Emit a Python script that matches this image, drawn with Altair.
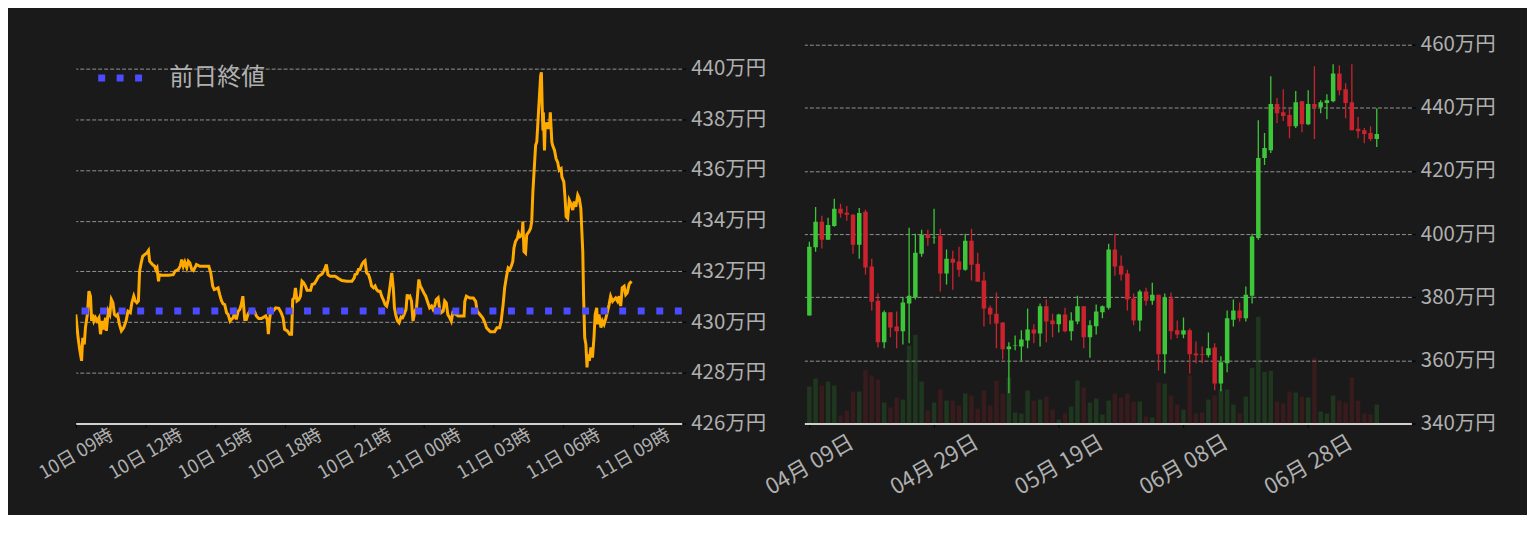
import altair as alt
import pandas as pd

FONT = "Noto Sans CJK JP"
BG = "#1a1a1a"
LABEL = "#b0b0b0"
ORANGE = "#ffaa00"
BLUE = "#4b4bff"
UP = "#3ec63a"
DOWN = "#c9232e"

# ---------------- intraday (minutes after 10日 09:00, price in 万円) ----------------
intraday_minutes = [
    0, 6, 10, 15, 18, 22, 25, 30, 34, 38, 41, 44, 47, 51, 55, 60, 64, 68, 72, 77,
    79, 84, 88, 92, 96, 100, 104, 108, 113, 118, 124, 130, 135, 141, 145, 150, 154, 158, 162, 165,
    169, 173, 178, 184, 188, 191, 195, 198, 204, 207, 210, 214, 216, 222, 240, 252, 257, 265, 270, 274,
    278, 282, 287, 291, 295, 300, 304, 308, 312, 321, 334, 344, 349, 354, 358, 364, 368, 372, 377, 381,
    385, 390, 394, 399, 402, 407, 411, 415, 420, 424, 428, 432, 437, 441, 445, 450, 456, 462, 467, 473,
    480, 491, 495, 498, 501, 505, 510, 517, 525, 531, 536, 540, 547, 553, 558, 561, 565, 568, 572, 577,
    581, 585, 589, 594, 598, 607, 611, 617, 622, 628, 637, 641, 645, 648, 652, 658, 671, 679, 688, 701,
    714, 720, 722, 727, 731, 735, 740, 744, 748, 752, 757, 761, 765, 770, 774, 778, 782, 787, 791, 795,
    800, 804, 808, 812, 817, 821, 824, 828, 832, 836, 841, 845, 849, 854, 857, 860, 864, 868, 872, 877,
    881, 887, 891, 896, 900, 905, 909, 915, 920, 924, 928, 932, 937, 941, 945, 950, 954, 958, 962, 967,
    971, 975, 983, 989, 998, 1004, 1006, 1010, 1019, 1028, 1034, 1038, 1045, 1052, 1058, 1062, 1066, 1072, 1083, 1089,
    1096, 1100, 1105, 1109, 1113, 1118, 1122, 1126, 1130, 1133, 1137, 1142, 1145, 1149, 1154, 1156, 1159, 1163, 1166, 1172,
    1176, 1179, 1182, 1186, 1189, 1192, 1196, 1199, 1202, 1204, 1206, 1208, 1209, 1212, 1214, 1218, 1221, 1225, 1227, 1231,
    1233, 1238, 1242, 1246, 1250, 1255, 1257, 1262, 1265, 1268, 1272, 1276, 1280, 1285, 1289, 1293, 1298, 1302, 1306, 1309,
    1311, 1313, 1316, 1319, 1322, 1324, 1328, 1332, 1336, 1340, 1343, 1347, 1349, 1353, 1358, 1362, 1366, 1371, 1375, 1379,
    1383, 1388, 1392, 1396, 1401, 1405, 1409, 1413, 1418, 1422, 1426, 1431, 1437,
]
intraday_price = [
    430.30, 429.38, 428.93, 428.47, 429.38, 429.12, 429.78, 430.30, 431.22, 431.02, 430.04, 430.30, 430.04, 430.17, 430.04, 430.17, 429.52, 430.04, 429.71, 430.17,
    429.65, 430.43, 430.30, 430.89, 430.76, 430.30, 430.24, 430.30, 429.91, 429.65, 429.78, 430.04, 430.43, 430.37, 430.76, 431.02, 430.83, 430.76, 430.83, 432.01,
    432.33, 432.59, 432.66, 432.73, 432.82, 432.40, 432.33, 432.27, 432.20, 432.07, 432.14, 431.61, 431.87, 431.85, 431.85, 431.87, 432.01, 432.07, 432.20, 432.46,
    432.20, 432.37, 432.14, 432.40, 432.33, 432.07, 432.03, 432.14, 432.27, 432.20, 432.20, 432.20, 431.94, 431.42, 431.28, 431.32, 431.35, 431.09, 430.83, 430.72,
    430.69, 430.37, 430.30, 430.04, 430.10, 430.17, 430.37, 430.10, 430.43, 430.50, 430.69, 431.02, 430.10, 430.10, 430.30, 430.43, 430.50, 430.43, 430.24, 430.14,
    430.14, 430.24, 430.10, 429.52, 430.10, 430.50, 430.43, 430.56, 430.54, 430.37, 430.17, 429.71, 429.65, 429.52, 429.52, 430.89, 430.96, 431.35, 430.83, 430.89,
    431.02, 431.61, 431.55, 431.42, 431.25, 431.25, 431.48, 431.51, 431.64, 431.81, 431.90, 432.01, 432.14, 432.27, 431.87, 431.81, 431.81, 431.72, 431.64, 431.61,
    431.61, 431.74, 431.87, 431.90, 432.07, 432.07, 432.27, 432.37, 432.42, 431.94, 431.87, 431.68, 431.42, 431.35, 431.42, 431.28, 431.22, 431.22, 431.02, 430.89,
    430.69, 430.63, 430.89, 431.35, 431.94, 431.35, 430.56, 430.24, 430.04, 429.97, 430.20, 430.17, 430.30, 430.50, 431.09, 430.96, 431.02, 430.83, 430.04, 430.43,
    430.56, 431.68, 431.42, 431.28, 431.15, 431.02, 430.83, 430.56, 430.63, 430.50, 430.63, 430.89, 430.96, 430.50, 430.37, 430.43, 430.83, 430.76, 430.30, 430.17,
    430.04, 430.37, 430.30, 430.24, 430.24, 430.24, 430.82, 431.02, 430.95, 430.95, 430.82, 430.43, 430.30, 430.17, 429.97, 429.78, 429.71, 429.62, 429.62, 429.78,
    429.78, 430.04, 430.69, 431.35, 431.74, 432.13, 432.07, 432.20, 432.39, 432.92, 433.18, 433.31, 433.50, 433.37, 433.44, 433.96, 432.78, 432.72, 433.44, 433.57,
    433.70, 433.96, 435.14, 436.18, 436.97, 437.10, 438.14, 438.93, 439.71, 439.85, 438.54, 437.56, 438.27, 436.77, 437.88, 437.62, 437.88, 437.62, 438.27, 437.10,
    436.97, 436.77, 436.44, 436.31, 435.99, 436.05, 435.73, 435.53, 434.94, 434.16, 434.09, 434.81, 434.68, 434.42, 434.75, 434.55, 435.01, 434.88, 434.48, 433.44,
    432.78, 431.08, 429.39, 429.12, 428.21, 428.73, 428.47, 429.00, 428.60, 429.39, 430.30, 430.56, 429.91, 430.30, 429.78, 430.04, 429.91, 430.17, 430.43, 430.69,
    431.02, 430.82, 430.89, 430.95, 430.82, 431.02, 430.63, 431.35, 431.41, 431.08, 431.15, 431.50, 431.61,
]
prev_close = 430.44
prev_close_label = "前日終値"

# ---------------- daily candles (万円) ----------------
day_open = [
    374.2, 395.8, 403.9, 398.2, 402.6, 408.0, 406.8, 406.1, 396.6, 407.1,
    389.7, 378.9, 365.7, 375.2, 370.7, 369.2, 378.0, 379.9, 393.8, 399.9,
    398.9, 399.5, 387.5, 392.2, 391.3, 388.7, 397.9, 390.6, 385.3, 376.7,
    374.8, 372.0, 363.5, 364.6, 364.4, 366.3, 369.8, 368.5, 377.1, 372.6,
    371.4, 374.5, 369.2, 372.3, 377.1, 367.3, 370.8, 375.2, 376.7, 395.1,
    390.0, 387.5, 379.6, 372.6, 381.8, 378.9, 380.8, 361.9, 379.6, 369.5,
    368.2, 369.5, 362.2, 361.9, 361.6, 364.1, 352.7, 359.1, 372.9, 375.8,
    373.3, 380.5, 398.8, 424.1, 426.6, 441.2, 438.6, 437.7, 434.2, 442.1,
    434.8, 441.2, 440.2, 441.5, 442.1, 450.9, 445.9, 441.8, 433.4, 432.9,
    432.0, 430.1,
]
day_close = [
    396.0, 403.9, 398.2, 402.9, 408.0, 406.5, 406.1, 396.6, 406.7, 389.4,
    378.6, 365.7, 375.2, 370.4, 369.2, 378.3, 380.5, 394.1, 399.8, 398.8,
    399.1, 387.5, 392.2, 390.9, 388.7, 397.9, 390.3, 384.9, 376.4, 374.5,
    371.7, 363.5, 364.4, 364.8, 366.6, 369.8, 368.5, 377.1, 372.3, 371.4,
    374.5, 369.2, 372.6, 377.1, 367.3, 371.1, 375.5, 377.1, 395.1, 389.7,
    387.2, 379.3, 372.6, 381.8, 378.9, 380.8, 361.9, 379.8, 369.2, 368.2,
    369.5, 361.9, 361.6, 361.7, 363.8, 352.7, 359.4, 373.3, 375.8, 373.3,
    380.8, 399.2, 424.1, 427.3, 441.2, 438.3, 437.4, 434.2, 441.8, 434.8,
    441.2, 440.2, 441.8, 442.4, 450.9, 445.6, 441.5, 432.9, 432.6, 431.7,
    430.1, 431.7,
]
day_high = [
    397.6, 408.6, 405.8, 405.2, 411.2, 409.6, 408.9, 406.4, 408.3, 407.7,
    392.2, 381.2, 375.8, 375.2, 375.5, 379.9, 402.0, 400.1, 401.4, 401.4,
    408.0, 401.7, 395.1, 394.7, 396.0, 400.1, 401.7, 394.1, 388.1, 377.4,
    381.5, 372.0, 365.7, 367.9, 369.5, 376.4, 371.4, 378.0, 379.3, 374.8,
    374.8, 376.7, 375.2, 380.5, 377.1, 372.7, 377.7, 377.4, 396.9, 400.1,
    393.2, 388.7, 381.2, 382.4, 383.0, 384.6, 380.8, 381.2, 381.5, 372.6,
    373.6, 370.1, 366.0, 364.4, 368.8, 365.4, 361.3, 375.8, 379.3, 378.3,
    383.4, 400.1, 436.1, 432.0, 450.0, 443.1, 445.9, 439.6, 445.3, 442.1,
    445.6, 453.2, 442.4, 444.3, 453.8, 453.5, 447.8, 453.8, 437.1, 433.6,
    434.2, 439.9,
]
day_low = [
    374.2, 394.4, 395.4, 398.2, 402.3, 405.2, 404.2, 393.8, 392.2, 387.2,
    375.8, 364.1, 363.8, 367.3, 363.8, 365.0, 365.4, 379.3, 392.8, 396.3,
    396.9, 381.8, 384.0, 382.4, 386.5, 388.4, 385.3, 384.9, 370.7, 371.4,
    363.8, 360.3, 349.6, 363.2, 359.9, 363.8, 365.4, 364.4, 365.7, 367.3,
    368.8, 368.9, 366.3, 371.4, 363.8, 360.8, 368.2, 373.3, 376.1, 386.8,
    385.3, 375.8, 371.1, 369.2, 377.4, 377.6, 356.8, 355.8, 366.6, 367.0,
    367.0, 355.8, 359.1, 359.1, 360.9, 350.5, 350.2, 356.2, 370.7, 372.3,
    372.3, 378.0, 398.2, 421.9, 425.7, 435.2, 435.8, 430.4, 433.6, 432.3,
    434.5, 430.1, 438.3, 436.4, 441.8, 444.0, 436.7, 432.9, 430.4, 428.8,
    429.5, 427.6,
]
day_volume = [
    37, 45, 38, 42, 38, 8, 13, 32, 32, 54,
    48, 44, 21, 16, 26, 24, 78, 89, 42, 13,
    21, 34, 23, 23, 18, 30, 28, 15, 33, 18,
    43, 30, 46, 11, 10, 33, 23, 24, 27, 14,
    4, 10, 17, 43, 36, 21, 25, 9, 23, 30,
    26, 30, 22, 22, 7, 6, 41, 40, 28, 19,
    14, 48, 10, 11, 24, 28, 34, 34, 19, 10,
    27, 56, 107, 52, 53, 22, 20, 32, 31, 27,
    26, 66, 12, 10, 28, 23, 21, 46, 23, 10,
    9, 19,
]

# ---------------- tables ----------------
start = pd.Timestamp("2023-07-10 09:00")
line_df = pd.DataFrame({
    "time": [start + pd.Timedelta(minutes=m) for m in intraday_minutes],
    "price": intraday_price,
})
prev_df = pd.DataFrame({"name": [prev_close_label], "value": [prev_close]})

dates = pd.date_range("2023-04-09", periods=len(day_open), freq="D")
candle_df = pd.DataFrame({
    "date": dates,
    "open": day_open, "high": day_high, "low": day_low, "close": day_close,
    "volume": day_volume,
})
candle_df["dir"] = ["up" if c >= o else "down" for o, c in zip(day_open, day_close)]

# ---------------- left: intraday ----------------
left_x = alt.X(
    "time:T",
    title=None,
    scale=alt.Scale(domain=[alt.DateTime(year=2023, month=7, date=10, hours=9),
                            alt.DateTime(year=2023, month=7, date=11, hours=11, minutes=7)]),
    axis=alt.Axis(
        values=[alt.DateTime(year=2023, month=7, date=10, hours=h) for h in (9, 12, 15, 18, 21)]
        + [alt.DateTime(year=2023, month=7, date=11, hours=h) for h in (0, 3, 6, 9)],
        format="%d日 %H時", labelAngle=-30, labelAlign="center", labelBaseline="middle",
        labelPadding=26, labelFontSize=18.5, grid=False,
    ),
)
left_y_scale = alt.Scale(domain=[426, 440.94], nice=False, zero=False)
left_y_axis = alt.Axis(
    orient="right", values=list(range(426, 441, 2)), labelExpr="datum.value + '万円'",
    grid=True, domain=False, labelFontSize=20.5, labelPadding=5,
)

price_line = alt.Chart(line_df).mark_line(color=ORANGE, strokeWidth=3, clip=True).encode(
    x=left_x,
    y=alt.Y("price:Q", title=None, scale=left_y_scale, axis=left_y_axis),
)
prev_rule = alt.Chart(prev_df).mark_rule(strokeWidth=7, strokeDash=[7, 11.6], strokeCap="butt").encode(
    y=alt.Y("value:Q", title=None, scale=left_y_scale),
    stroke=alt.Stroke(
        "name:N", scale=alt.Scale(range=[BLUE]),
        legend=alt.Legend(
            title=None, orient="none", legendX=19, legendY=8, symbolType="stroke",
            symbolSize=1936, symbolStrokeWidth=7, symbolDash=[7, 11.5],
            labelFontSize=24, labelColor=LABEL, labelFont=FONT, labelOffset=24,
        ),
    ),
)
left = alt.layer(price_line, prev_rule).properties(width=608, height=380)

# ---------------- right: daily candles ----------------
right_x = alt.X(
    "date:T",
    title=None,
    scale=alt.Scale(domain=[alt.DateTime(year=2023, month=4, date=9),
                            alt.DateTime(year=2023, month=7, date=13, hours=18)]),
    axis=alt.Axis(
        values=[alt.DateTime(year=2023, month=m, date=d) for m, d in ((4, 9), (4, 29), (5, 19), (6, 8), (6, 28))],
        format="%m月 %d日", labelAngle=-30, labelAlign="center", labelBaseline="middle",
        labelPadding=37, labelFontSize=22, grid=False,
    ),
)
price_scale = alt.Scale(domain=[340, 460], nice=False, zero=False)
price_axis = alt.Axis(
    orient="right", values=list(range(340, 461, 20)), labelExpr="datum.value + '万円'",
    grid=True, domain=False, labelFontSize=20.5, labelPadding=5,
)
dir_color = alt.Color("dir:N", scale=alt.Scale(domain=["up", "down"], range=[UP, DOWN]), legend=None)

base = alt.Chart(candle_df)
vol = base.mark_bar(size=4.5, opacity=0.17, clip=True).encode(
    x=right_x,
    y=alt.Y("volume:Q", title=None, scale=alt.Scale(domain=[0, 380]), axis=None),
    color=dir_color,
)
wick = base.mark_rule(strokeWidth=1.3, clip=True).encode(
    x=right_x,
    y=alt.Y("low:Q", title=None, scale=price_scale, axis=price_axis),
    y2="high:Q",
    color=dir_color,
)
body = base.mark_bar(size=4.5, clip=True).encode(
    x=right_x,
    y=alt.Y("open:Q", title=None, scale=price_scale),
    y2="close:Q",
    color=dir_color,
)
right = alt.layer(vol, alt.layer(wick, body)).resolve_scale(y="independent").properties(width=609, height=380)

chart = (
    alt.hconcat(left, right, spacing=123, bounds="flush")
    .properties(background=BG, padding={"left": 27, "top": 26, "right": 31, "bottom": 16})
    .configure_view(stroke=None)
    .configure_axis(
        labelFont=FONT, labelColor=LABEL, domainColor="#d0d0d0", domainWidth=2,
        tickColor="#000000", tickSize=4, gridColor="#b0b0b0", gridDash=[4, 2],
        gridWidth=0.8, labelOverlap=False, labelBound=False,
    )
)
chart.save("out.html", embed_options={"renderer": "svg", "actions": False})
